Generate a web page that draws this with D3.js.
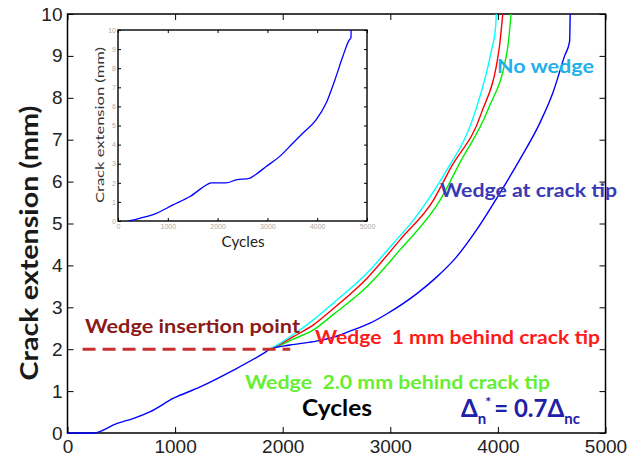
<!DOCTYPE html>
<html>
<head>
<meta charset="utf-8">
<script src="https://cdn.jsdelivr.net/npm/d3@7"></script>
<style>
  body { margin: 0; background: #fff; }
  svg { display: block; }
</style>
</head>
<body>
<svg id="chart" width="635" height="458"></svg>
<script>
// crack extension (mm) vs cycles
const blueCycles   = [0, 244, 461, 615, 770, 986, 1234, 1543, 1821, 1883, 2069, 2285, 2450, 2624, 2811, 2966, 3244, 3430, 3618, 3800, 4017, 4202, 4388, 4511, 4620, 4666, 4672];
const blueCrack    = [0, 0, 0.23, 0.35, 0.51, 0.83, 1.1, 1.5, 1.9, 2.0, 2.1, 2.18, 2.27, 2.43, 2.62, 2.84, 3.32, 3.72, 4.21, 4.84, 5.72, 6.52, 7.39, 8.12, 9.0, 9.34, 10];
const cyanCycles   = [1883, 2000, 2100, 2285, 2471, 2782, 3029, 3215, 3339, 3502, 3781, 3939, 3979, 3985];
const cyanCrack    = [2.0, 2.18, 2.35, 2.7, 3.1, 3.81, 4.53, 5.08, 5.52, 6.18, 7.61, 9.12, 9.7, 10];
const redCycles    = [1883, 2000, 2100, 2285, 2471, 2782, 3090, 3401, 3564, 3843, 4013, 4045];
const redCrack     = [2.0, 2.15, 2.3, 2.58, 2.97, 3.69, 4.61, 5.56, 6.34, 7.61, 9.2, 10];
const greenCycles  = [1883, 2000, 2100, 2285, 2471, 2782, 3090, 3463, 3657, 3905, 4091, 4122];
const greenCrack   = [2.0, 2.12, 2.24, 2.46, 2.83, 3.49, 4.37, 5.56, 6.5, 7.7, 9.2, 10];
// inset curve (wedge at crack tip)
const insetCycles  = [220, 434, 769, 1103, 1437, 1838, 1870, 2170, 2373, 2640, 2774, 2975, 3242, 3509, 3710, 3977, 4178, 4378, 4512, 4645, 4679, 4680];
const insetCrack   = [0, 0.14, 0.4, 0.84, 1.27, 1.97, 2.0, 2.0, 2.15, 2.23, 2.45, 2.85, 3.37, 4.07, 4.59, 5.29, 6.16, 7.56, 8.6, 9.48, 9.6, 10];

const xTicks = [0, 1000, 2000, 3000, 4000, 5000];
const yTicks = [0, 1, 2, 3, 4, 5, 6, 7, 8, 9, 10];
const insertionCrack = 2;
const insertionRange = [140, 2070];

const svg = d3.select('#chart');
const pairs = (xs, ys) => xs.map((c, i) => [c, ys[i]]);
const fmt = d3.format('d');
const smooth = d3.curveMonotoneX;

// main axes
const x = d3.scaleLinear().domain([0, 5000]).range([67.5, 605.5]);
const y = d3.scaleLinear().domain([0, 10]).range([433, 14]);

function styleTicks(g, size, color) {
  g.attr('font-family', '"Liberation Sans", Arial, sans-serif');
  g.select('.domain').remove();
  g.selectAll('line').attr('stroke', '#000');
  g.selectAll('text')
    .attr('font-size', size)
    .attr('fill', color);
}

svg.append('g')
  .attr('transform', `translate(0,${y(0)})`)
  .call(d3.axisBottom(x).tickValues(xTicks).tickFormat(fmt).tickSize(-6).tickSizeOuter(0).tickPadding(7))
  .call(g => styleTicks(g, 19, '#222'));
svg.append('g')
  .attr('transform', `translate(${x(0)},0)`)
  .call(d3.axisLeft(y).tickValues(yTicks).tickFormat(fmt).tickSize(-6).tickSizeOuter(0).tickPadding(5))
  .call(g => styleTicks(g, 19, '#222'));
svg.append('g')
  .attr('transform', `translate(0,${y(10)})`)
  .call(d3.axisTop(x).tickValues(xTicks).tickSize(-6).tickSizeOuter(0).tickFormat(''))
  .call(g => styleTicks(g, 19, '#222'));
svg.append('g')
  .attr('transform', `translate(${x(5000)},0)`)
  .call(d3.axisRight(y).tickValues(yTicks).tickSize(-6).tickSizeOuter(0).tickFormat(''))
  .call(g => styleTicks(g, 19, '#222'));

svg.append('rect')
  .attr('x', x(0)).attr('y', y(10))
  .attr('width', x(5000) - x(0)).attr('height', y(0) - y(10))
  .attr('fill', 'none').attr('stroke', '#000').attr('stroke-width', 1.5);

const line = d3.line().x(d => x(d[0])).y(d => y(d[1])).curve(smooth);
const series = [
  { xs: greenCycles, ys: greenCrack, color: '#00ee00' },
  { xs: redCycles, ys: redCrack, color: '#ff0000' },
  { xs: cyanCycles, ys: cyanCrack, color: '#00ffff' },
  { xs: blueCycles, ys: blueCrack, color: '#0000ff' }
];
series.forEach(s => {
  svg.append('path')
    .datum(pairs(s.xs, s.ys))
    .attr('d', line)
    .attr('fill', 'none')
    .attr('stroke', s.color)
    .attr('stroke-width', 1.4);
});

// dashed insertion line
svg.append('line')
  .attr('x1', x(insertionRange[0])).attr('x2', x(insertionRange[1]))
  .attr('y1', y(insertionCrack)).attr('y2', y(insertionCrack))
  .attr('stroke', '#c83030').attr('stroke-width', 3)
  .attr('stroke-dasharray', '13,7');

// inset
const xi = d3.scaleLinear().domain([0, 5000]).range([118, 367]);
const yi = d3.scaleLinear().domain([0, 10]).range([221, 30]);

svg.append('rect')
  .attr('x', xi(0)).attr('y', yi(10))
  .attr('width', xi(5000) - xi(0)).attr('height', yi(0) - yi(10))
  .attr('fill', '#fff');

svg.append('g')
  .attr('transform', `translate(0,${yi(0)})`)
  .call(d3.axisBottom(xi).tickValues(xTicks).tickFormat(fmt).tickSize(-3).tickSizeOuter(0).tickPadding(3))
  .call(g => styleTicks(g, 7, '#aaa'));
svg.append('g')
  .attr('transform', `translate(${xi(0)},0)`)
  .call(d3.axisLeft(yi).tickValues(yTicks).tickFormat(fmt).tickSize(-3).tickSizeOuter(0).tickPadding(2))
  .call(g => styleTicks(g, 7, '#aaa'));
svg.append('g')
  .attr('transform', `translate(0,${yi(10)})`)
  .call(d3.axisTop(xi).tickValues(xTicks).tickSize(-3).tickSizeOuter(0).tickFormat(''))
  .call(g => styleTicks(g, 7, '#aaa'));
svg.append('g')
  .attr('transform', `translate(${xi(5000)},0)`)
  .call(d3.axisRight(yi).tickValues(yTicks).tickSize(-3).tickSizeOuter(0).tickFormat(''))
  .call(g => styleTicks(g, 7, '#aaa'));

svg.append('rect')
  .attr('x', xi(0)).attr('y', yi(10))
  .attr('width', xi(5000) - xi(0)).attr('height', yi(0) - yi(10))
  .attr('fill', 'none').attr('stroke', '#000').attr('stroke-width', 1.4);

svg.append('path')
  .datum(pairs(insetCycles, insetCrack))
  .attr('d', d3.line().x(d => xi(d[0])).y(d => yi(d[1])).curve(smooth))
  .attr('fill', 'none')
  .attr('stroke', '#0000ff')
  .attr('stroke-width', 1.3);

const labelFont = 'Lato, "Open Sans", sans-serif';

svg.append('text')
  .attr('transform', 'translate(104,125) rotate(-90)')
  .attr('text-anchor', 'middle')
  .attr('font-family', labelFont).attr('font-size', 12)
  .attr('fill', '#333')
  .attr('textLength', 156).attr('lengthAdjust', 'spacingAndGlyphs')
  .text('Crack extension (mm)');
svg.append('text')
  .attr('x', 243).attr('y', 247)
  .attr('text-anchor', 'middle')
  .attr('font-family', labelFont).attr('font-size', 15)
  .attr('fill', '#222')
  .attr('textLength', 43).attr('lengthAdjust', 'spacingAndGlyphs')
  .text('Cycles');

// main labels
svg.append('text')
  .attr('transform', 'translate(38,243) rotate(-90)')
  .attr('text-anchor', 'middle')
  .attr('font-family', labelFont).attr('font-size', 24).attr('font-weight', 'bold')
  .attr('fill', '#1a1a1a')
  .attr('textLength', 275).attr('lengthAdjust', 'spacingAndGlyphs')
  .text('Crack extension (mm)');

const notes = [
  { text: 'No wedge', x: 497, y: 73, w: 97, size: 19, color: '#22b0e8' },
  { text: 'Wedge at crack tip', x: 440, y: 197, w: 177, size: 19, color: '#3a3ab4' },
  { text: 'Wedge insertion point', x: 85, y: 333, w: 215, size: 19, color: '#8b1a1a' },
  { text: 'Wedge  1 mm behind crack tip', x: 315, y: 344, w: 285, size: 19, color: '#ff1a1a' },
  { text: 'Wedge  2.0 mm behind crack tip', x: 245, y: 389, w: 305, size: 19, color: '#66ee33' },
  { text: 'Cycles', x: 302, y: 416, w: 70, size: 22, color: '#000' }
];
notes.forEach(n => {
  svg.append('text')
    .attr('x', n.x).attr('y', n.y)
    .attr('font-family', labelFont).attr('font-size', n.size).attr('font-weight', 'bold')
    .attr('fill', n.color)
    .attr('xml:space', 'preserve')
    .attr('textLength', n.w).attr('lengthAdjust', 'spacingAndGlyphs')
    .text(n.text);
});

// Δn* = 0.7Δnc
const formula = svg.append('text')
  .attr('x', 461).attr('y', 417)
  .attr('font-family', labelFont).attr('font-weight', 'bold').attr('fill', '#2020a8')
  .attr('font-size', 24);
formula.append('tspan').text('Δ');
formula.append('tspan').attr('font-size', 15).attr('dy', 7).text('n');
formula.append('tspan').attr('font-size', 14).attr('dy', -17).attr('dx', -1).text('*');
formula.append('tspan').attr('dy', 10).attr('dx', 3).text('= 0.7Δ');
formula.append('tspan').attr('font-size', 15).attr('dy', 7).text('nc');
</script>
</body>
</html>
